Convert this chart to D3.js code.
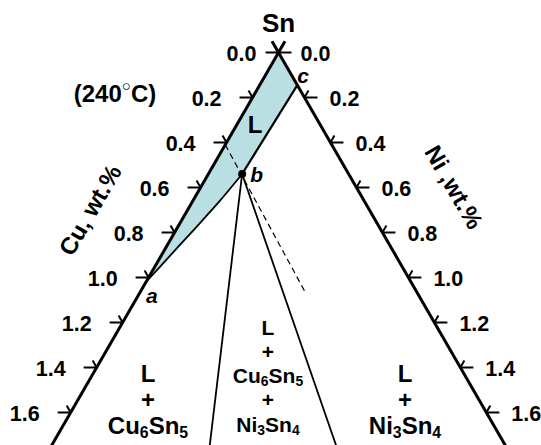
<!DOCTYPE html>
<html>
<head>
<meta charset="utf-8">
<script src="https://cdn.jsdelivr.net/npm/d3@7"></script>
<style>
  html, body { margin: 0; padding: 0; background: #fff; }
  svg { display: block; }
  text { font-family: "Liberation Sans", Arial, Helvetica, sans-serif; font-weight: bold; fill: #000; }
</style>
</head>
<body>
<script>
// Sn-rich corner of the Sn–Cu–Ni isothermal section at 240 °C (compositions in wt.%)
const cuTicks = [0.0, 0.2, 0.4, 0.6, 0.8, 1.0, 1.2, 1.4, 1.6];
const niTicks = [0.0, 0.2, 0.4, 0.6, 0.8, 1.0, 1.2, 1.4, 1.6];

// invariant points [Cu, Ni]
const pointA = [1.02, 0.0];
const pointB = [0.41, 0.13];
const pointC = [0.0, 0.145];

// liquidus boundary b → a (L / L+Cu6Sn5)
const liquidusBA = [[0.41, 0.13], [0.56, 0.103], [0.72, 0.068], [0.87, 0.034], [1.02, 0.0]];
// tie-triangle legs leaving b
const tieLegCu6Sn5 = [[0.41, 0.13], [1.21, 0.656]];
const tieLegNi3Sn4 = [[0.41, 0.13], [0.675, 1.189]];
// dashed composition line through b
const dashedLine = [[0.41, 0.0], [0.43, 0.64]];

const W = 541, H = 445;
const apex = { x: 278.5, y: 52.5 };
// distance along an edge for a given wt.%
const edge = d3.scaleLinear().domain([0, 1]).range([0, 259.8]);
const SQ3 = Math.sqrt(3) / 2;

function proj(cu, ni) {
  return [apex.x + (edge(ni) - edge(cu)) / 2, apex.y + SQ3 * (edge(cu) + edge(ni))];
}
const line = d3.line().x(d => proj(d[0], d[1])[0]).y(d => proj(d[0], d[1])[1]);
const smooth = d3.line().curve(d3.curveCatmullRom.alpha(0.5))
  .x(d => proj(d[0], d[1])[0]).y(d => proj(d[0], d[1])[1]);

const svg = d3.select("body").append("svg").attr("width", W).attr("height", H);

// liquid field: Sn corner → c → b → (liquidus) → a → Sn corner
const liquidPath = line([[0, 0], pointC]) + smooth(liquidusBA).replace(/^M/, "L") + "Z";
svg.append("path").attr("d", liquidPath).attr("fill", "#b9dfe3").attr("stroke", "none");

// phase boundaries
svg.append("path").attr("d", line([pointC, pointB]))
  .attr("fill", "none").attr("stroke", "#000").attr("stroke-width", 2.2);
svg.append("path").attr("d", smooth(liquidusBA))
  .attr("fill", "none").attr("stroke", "#000").attr("stroke-width", 1.8);
svg.append("path").attr("d", line(tieLegCu6Sn5))
  .attr("fill", "none").attr("stroke", "#000").attr("stroke-width", 1.8);
svg.append("path").attr("d", line(tieLegNi3Sn4))
  .attr("fill", "none").attr("stroke", "#000").attr("stroke-width", 1.8);
svg.append("path").attr("d", line(dashedLine))
  .attr("fill", "none").attr("stroke", "#000").attr("stroke-width", 1.2)
  .attr("stroke-dasharray", "6,4");

// triangle edges (binary Sn–Cu and Sn–Ni), extended a little past the Sn corner
const ext = -0.05, far = 1.9;
svg.append("path").attr("d", line([[ext, 0], [far, 0]]))
  .attr("fill", "none").attr("stroke", "#000").attr("stroke-width", 3);
svg.append("path").attr("d", line([[0, ext], [0, far]]))
  .attr("fill", "none").attr("stroke", "#000").attr("stroke-width", 3);

// ticks: a horizontal stub (constant Sn) and a stub along constant Cu / constant Ni
const hStub = 13, sStub = 8;
const gL = svg.append("g");
cuTicks.forEach(v => {
  const [x, y] = proj(v, 0);
  gL.append("line").attr("x1", x).attr("y1", y).attr("x2", x - hStub).attr("y2", y)
    .attr("stroke", "#000").attr("stroke-width", 2);
  gL.append("line").attr("x1", x).attr("y1", y).attr("x2", x - sStub / 2).attr("y2", y - sStub * SQ3)
    .attr("stroke", "#000").attr("stroke-width", 2);
  gL.append("text").attr("x", x - (v === 0 ? 22 : 31)).attr("y", y + 1.5)
    .attr("text-anchor", "end").attr("dominant-baseline", "central")
    .attr("font-size", 21.5).text(d3.format(".1f")(v));
});
const gR = svg.append("g");
niTicks.forEach(v => {
  const [x, y] = proj(0, v);
  gR.append("line").attr("x1", x).attr("y1", y).attr("x2", x + hStub).attr("y2", y)
    .attr("stroke", "#000").attr("stroke-width", 2);
  gR.append("line").attr("x1", x).attr("y1", y).attr("x2", x + sStub / 2).attr("y2", y - sStub * SQ3)
    .attr("stroke", "#000").attr("stroke-width", 2);
  gR.append("text").attr("x", x + (v === 0 ? 22 : 25)).attr("y", y + 1.5)
    .attr("text-anchor", "start").attr("dominant-baseline", "central")
    .attr("font-size", 21.5).text(d3.format(".1f")(v));
});

// point b
const pb = proj(pointB[0], pointB[1]);
svg.append("circle").attr("cx", pb[0]).attr("cy", pb[1]).attr("r", 4).attr("fill", "#000");

// point letters
const pa = proj(pointA[0], pointA[1]);
const pc = proj(pointC[0], pointC[1]);
[["a", pa[0], pa[1] + 21], ["b", pb[0] + 8, pb[1] + 8], ["c", pc[0] + 0, pc[1] - 2]].forEach(d => {
  svg.append("text").attr("x", d[1]).attr("y", d[2])
    .attr("font-size", 21).attr("font-style", "italic").text(d[0]);
});

// corner and axis titles
svg.append("text").attr("x", apex.x).attr("y", 32).attr("text-anchor", "middle")
  .attr("font-size", 26).text("Sn");
svg.append("text").attr("transform", "translate(90,210) rotate(-60)")
  .attr("text-anchor", "middle").attr("dominant-baseline", "central")
  .attr("font-size", 24).text("Cu, wt.%");
svg.append("text").attr("transform", "translate(454,187) rotate(60)")
  .attr("text-anchor", "middle").attr("dominant-baseline", "central")
  .attr("font-size", 24).text("Ni ,wt.%");

// temperature
const temp = svg.append("text").attr("x", 115).attr("y", 93)
  .attr("text-anchor", "middle").attr("dominant-baseline", "central").attr("font-size", 24);
temp.append("tspan").text("(240");
temp.append("tspan").attr("font-size", 15).attr("font-weight", "normal").attr("dy", -8).text("○");
temp.append("tspan").attr("dy", 8).text("C)");

// liquid label
const pL = proj(0.25, 0.07);
svg.append("text").attr("x", pL[0]).attr("y", pL[1]).attr("text-anchor", "middle")
  .attr("dominant-baseline", "central").attr("font-size", 24).text("L");

// phase-field labels; [x] marks a subscript
function phaseLabel(cx, ys, rows, size) {
  rows.forEach((r, i) => {
    const t = svg.append("text").attr("x", cx).attr("y", ys[i])
      .attr("text-anchor", "middle").attr("dominant-baseline", "central").attr("font-size", size);
    let lowered = false;
    r.forEach(part => {
      const sub = Array.isArray(part);
      const ts = t.append("tspan").text(sub ? part[0] : part);
      if (sub) {
        ts.attr("font-size", size * 0.66);
        if (!lowered) ts.attr("dy", size * 0.3);
        lowered = true;
      } else if (lowered) {
        ts.attr("dy", -size * 0.3);
        lowered = false;
      }
    });
  });
}
phaseLabel(148, [373, 399, 425], [["L"], ["+"], ["Cu", ["6"], "Sn", ["5"]]], 24);
phaseLabel(268, [327, 351, 375, 399, 424], [["L"], ["+"], ["Cu", ["6"], "Sn", ["5"]], ["+"], ["Ni", ["3"], "Sn", ["4"]]], 21);
phaseLabel(405, [373, 399, 425], [["L"], ["+"], ["Ni", ["3"], "Sn", ["4"]]], 24);
</script>
</body>
</html>
